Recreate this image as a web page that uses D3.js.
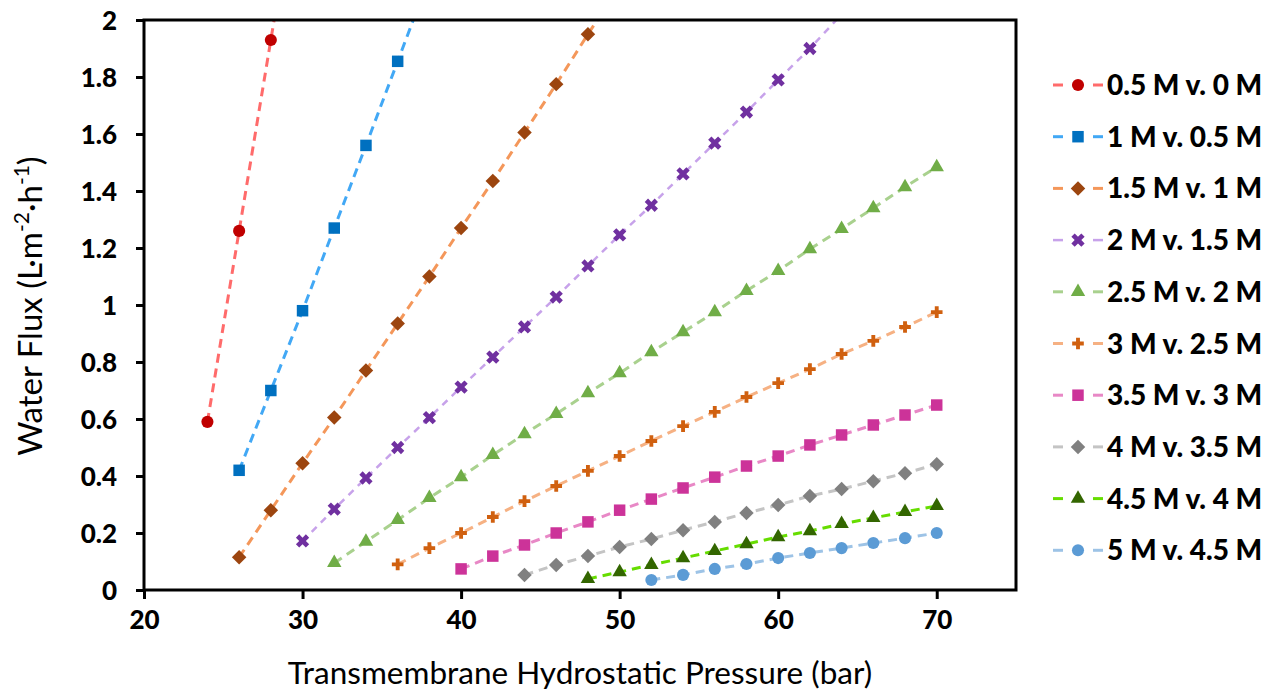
<html>
<head>
	<title>Water Flux vs Pressure</title>
	<style>
		body { margin: 0; background: white; }
	</style>
</head>
<body>
	<div id="chart"></div>
	<script src="https://d3js.org/d3.v7.min.js" charset="utf-8"></script>
	<script>
		// pressures (bar) at which flux was read, every 2 bar
		var pressure = [24, 26, 28, 30, 32, 34, 36, 38, 40, 42, 44, 46, 48, 50, 52, 54, 56, 58, 60, 62, 64, 66, 68, 70];

		// water flux per series (L m-2 h-1), null = no point at that pressure
		var flux05v0  = [0.59, 1.26, 1.93, 2.60, null, null, null, null, null, null, null, null, null, null, null, null, null, null, null, null, null, null, null, null];
		var flux1v05  = [null, 0.42, 0.70, 0.98, 1.27, 1.56, 1.855, 2.15, null, null, null, null, null, null, null, null, null, null, null, null, null, null, null, null];
		var flux15v1  = [null, 0.115, 0.28, 0.445, 0.605, 0.77, 0.935, 1.10, 1.27, 1.435, 1.605, 1.775, 1.95, 2.12, null, null, null, null, null, null, null, null, null, null];
		var flux2v15  = [null, null, null, 0.172, 0.284, 0.393, 0.50, 0.605, 0.712, 0.817, 0.923, 1.028, 1.137, 1.246, 1.35, 1.46, 1.568, 1.677, 1.79, 1.90, 2.02, null, null, null];
		var flux25v2  = [null, null, null, null, 0.095, 0.17, 0.246, 0.323, 0.396, 0.474, 0.547, 0.618, 0.691, 0.761, 0.835, 0.905, 0.975, 1.05, 1.12, 1.196, 1.267, 1.34, 1.414, 1.484];
		var flux3v25  = [null, null, null, null, null, null, 0.09, 0.147, 0.20, 0.256, 0.312, 0.365, 0.418, 0.47, 0.523, 0.575, 0.625, 0.677, 0.726, 0.775, 0.828, 0.874, 0.923, 0.975];
		var flux35v3  = [null, null, null, null, null, null, null, null, 0.074, 0.119, 0.158, 0.20, 0.239, 0.28, 0.319, 0.358, 0.396, 0.435, 0.47, 0.509, 0.544, 0.579, 0.614, 0.649];
		var flux4v35  = [null, null, null, null, null, null, null, null, null, null, 0.053, 0.088, 0.119, 0.151, 0.179, 0.21, 0.239, 0.27, 0.298, 0.33, 0.354, 0.382, 0.41, 0.441];
		var flux45v4  = [null, null, null, null, null, null, null, null, null, null, null, null, 0.039, 0.063, 0.088, 0.112, 0.137, 0.161, 0.186, 0.207, 0.232, 0.253, 0.274, 0.295];
		var flux5v45  = [null, null, null, null, null, null, null, null, null, null, null, null, null, null, 0.035, 0.053, 0.074, 0.091, 0.112, 0.13, 0.147, 0.165, 0.182, 0.20];

		var seriesNames = ["0.5 M v. 0 M", "1 M v. 0.5 M", "1.5 M v. 1 M", "2 M v. 1.5 M", "2.5 M v. 2 M",
			"3 M v. 2.5 M", "3.5 M v. 3 M", "4 M v. 3.5 M", "4.5 M v. 4 M", "5 M v. 4.5 M"];
		var seriesValues = [flux05v0, flux1v05, flux15v1, flux2v15, flux25v2, flux3v25, flux35v3, flux4v35, flux45v4, flux5v45];

		var xTicks = [20, 30, 40, 50, 60, 70];
		var yTicks = [0, 0.2, 0.4, 0.6, 0.8, 1, 1.2, 1.4, 1.6, 1.8, 2];

		// styling per series
		var markerColors = ["#C00000", "#0070C0", "#9C450F", "#7030A0", "#70AD47", "#D0600F", "#CC3399", "#808080", "#336600", "#5B9BD5"];
		var lineColors   = ["#FF6B6B", "#42A8F5", "#F4975A", "#C7A2EA", "#A9D18E", "#F6B183", "#E888C6", "#C4C4C4", "#66DD00", "#9DC3E6"];
		var markerShapes = ["circle", "square", "diamond", "x", "triangle", "plus", "square", "diamond", "triangle", "circle"];

		var width = 1268, height = 691;
		var plotLeft = 144, plotRight = 1016, plotTop = 20, plotBottom = 590;

		var svg = d3.select("#chart").append("svg")
			.attr("width", width)
			.attr("height", height);

		var x = d3.scaleLinear().domain([20, 75]).range([plotLeft, plotRight]);
		var y = d3.scaleLinear().domain([0, 2]).range([plotBottom, plotTop]);

		svg.append("defs").append("clipPath").attr("id", "plotclip")
			.append("rect")
			.attr("x", plotLeft).attr("y", plotTop)
			.attr("width", plotRight - plotLeft).attr("height", plotBottom - plotTop);

		function markerPath(shape) {
			if (shape == "circle") return d3.symbol().type(d3.symbolCircle).size(115)();
			if (shape == "square") return d3.symbol().type(d3.symbolSquare).size(132)();
			if (shape == "diamond") return d3.symbol().type(d3.symbolSquare).size(105)();
			if (shape == "triangle") return d3.symbol().type(d3.symbolTriangle).size(90)();
			if (shape == "plus") return d3.symbol().type(d3.symbolCross).size(75)();
			if (shape == "x") return d3.symbol().type(d3.symbolCross).size(110)();
		}

		function markerRotate(shape) {
			return (shape == "diamond" || shape == "x") ? " rotate(45)" : "";
		}

		// axes
		var xAxis = d3.axisBottom(x).tickValues(xTicks).tickSize(9).tickSizeOuter(0).tickPadding(12);
		var yAxis = d3.axisLeft(y).tickValues(yTicks).tickSize(8).tickSizeOuter(0).tickPadding(19)
			.tickFormat(d3.format("~g"));

		var gx = svg.append("g").attr("transform", "translate(0," + plotBottom + ")").call(xAxis);
		var gy = svg.append("g").attr("transform", "translate(" + plotLeft + ",0)").call(yAxis);

		[gx, gy].forEach(function (g) {
			g.select(".domain").remove();
			g.selectAll(".tick line").attr("stroke", "black").attr("stroke-width", 3);
			g.selectAll(".tick text")
				.attr("fill", "black")
				.attr("font-family", "Lato, sans-serif")
				.attr("font-weight", 900)
				.attr("font-size", 26);
		});
		gy.selectAll(".tick text").attr("dy", "0.36em");

		// series lines and markers
		var lineGen = d3.line()
			.defined(function (d) { return d.v != null; })
			.x(function (d) { return x(d.p); })
			.y(function (d) { return y(d.v); });

		var plot = svg.append("g").attr("clip-path", "url(#plotclip)");

		seriesValues.forEach(function (vals, i) {
			var pts = pressure.map(function (p, j) { return { p: p, v: vals[j] }; });
			plot.append("path")
				.datum(pts)
				.attr("fill", "none")
				.attr("stroke", lineColors[i])
				.attr("stroke-width", i == 3 ? 2.5 : 3)
				.attr("stroke-dasharray", i == 3 ? "7,6" : "9,6")
				.attr("d", lineGen);
		});

		seriesValues.forEach(function (vals, i) {
			var pts = pressure.map(function (p, j) { return { p: p, v: vals[j] }; })
				.filter(function (d) { return d.v != null && d.v <= 2; });
			plot.selectAll(".m" + i)
				.data(pts)
				.enter().append("path")
				.attr("class", "m" + i)
				.attr("d", markerPath(markerShapes[i]))
				.attr("transform", function (d) {
					return "translate(" + x(d.p) + "," + y(d.v) + ")" + markerRotate(markerShapes[i]);
				})
				.attr("fill", markerColors[i]);
		});

		// plot frame
		svg.append("rect")
			.attr("x", plotLeft).attr("y", plotTop)
			.attr("width", plotRight - plotLeft).attr("height", plotBottom - plotTop)
			.attr("fill", "none")
			.attr("stroke", "black")
			.attr("stroke-width", 3);

		// axis titles
		svg.append("text")
			.attr("x", 580)
			.attr("y", 684)
			.attr("text-anchor", "middle")
			.attr("font-family", "Lato, sans-serif")
			.attr("font-size", 31.5)
			.attr("fill", "black")
			.text("Transmembrane Hydrostatic Pressure (bar)");

		var yTitle = svg.append("text")
			.attr("transform", "translate(42,306) rotate(-90)")
			.attr("text-anchor", "middle")
			.attr("font-family", "Lato, sans-serif")
			.attr("font-size", 33)
			.attr("fill", "black");
		yTitle.append("tspan").text("Water Flux (L\u00B7m");
		yTitle.append("tspan").attr("font-size", 21).attr("dy", -13).text("-2");
		yTitle.append("tspan").attr("dy", 13).text("\u00B7h");
		yTitle.append("tspan").attr("font-size", 21).attr("dy", -13).text("-1");
		yTitle.append("tspan").attr("dy", 13).text(")");

		// legend
		var legendTop = 85, legendStep = 51.7;
		var legend = svg.append("g");
		seriesNames.forEach(function (name, i) {
			var ly = legendTop + i * legendStep;
			var item = legend.append("g");
			[[1053, 1063], [1093, 1103]].forEach(function (seg) {
				item.append("line")
					.attr("x1", seg[0]).attr("x2", seg[1])
					.attr("y1", ly).attr("y2", ly)
					.attr("stroke", lineColors[i])
					.attr("stroke-width", i == 3 ? 2.5 : 3);
			});
			item.append("path")
				.attr("d", markerPath(markerShapes[i]))
				.attr("transform", "translate(1078," + ly + ")" + markerRotate(markerShapes[i]))
				.attr("fill", markerColors[i]);
			item.append("text")
				.attr("x", 1107)
				.attr("y", ly)
				.attr("dy", "0.36em")
				.attr("font-family", "Lato, sans-serif")
				.attr("font-weight", 900)
				.attr("font-size", 28)
				.attr("fill", "black")
				.text(name);
		});
	</script>
</body>
</html>
